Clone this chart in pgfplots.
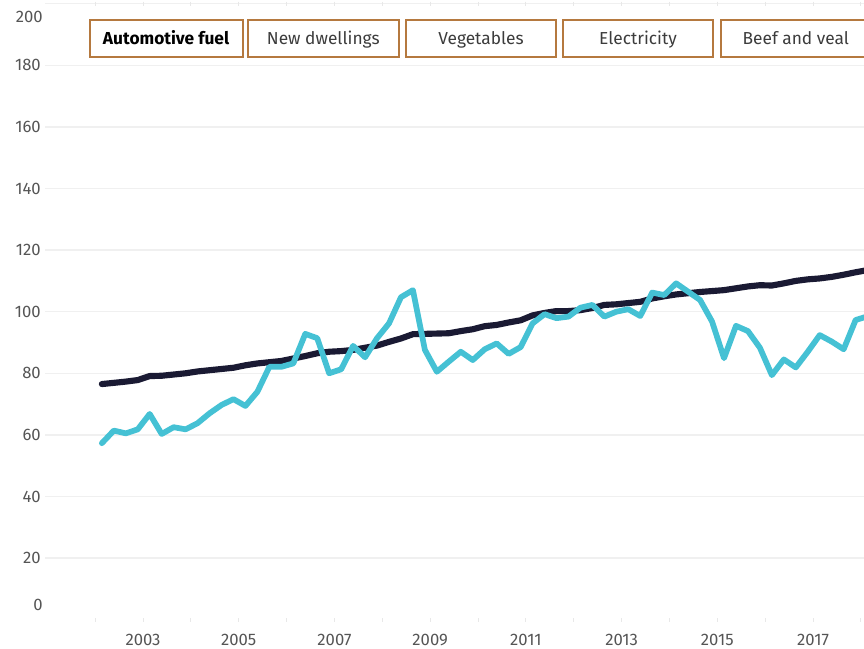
\documentclass[border=0pt]{standalone}
\usepackage{pgfplots}
\pgfplotsset{compat=1.18}
\usepackage{fontspec}
\setmainfont{Fira Sans}
\definecolor{fuel}{RGB}{69,193,212}
\definecolor{cpi}{RGB}{26,26,51}
\definecolor{btn}{RGB}{181,121,63}
\definecolor{lbl}{RGB}{85,85,85}
\definecolor{gridc}{RGB}{240,240,240}
\definecolor{btxt}{RGB}{60,60,60}

\pgfplotstableread{
x y
2002.14 57.3
2002.39 61.4
2002.64 60.5
2002.89 61.8
2003.14 66.8
2003.39 60.3
2003.64 62.5
2003.89 61.8
2004.14 63.8
2004.39 67.0
2004.64 69.7
2004.89 71.6
2005.14 69.4
2005.39 74.0
2005.64 82.1
2005.89 82.1
2006.14 83.2
2006.39 92.8
2006.64 91.4
2006.89 80.0
2007.14 81.3
2007.39 88.9
2007.64 85.2
2007.89 91.4
2008.14 96.2
2008.39 104.7
2008.64 107.0
2008.89 87.6
2009.14 80.5
2009.39 83.8
2009.64 87.0
2009.89 84.3
2010.14 87.8
2010.39 89.7
2010.64 86.3
2010.89 88.5
2011.14 96.2
2011.39 99.2
2011.64 97.9
2011.89 98.4
2012.14 101.3
2012.39 102.2
2012.64 98.4
2012.89 100.0
2013.14 100.8
2013.39 98.6
2013.64 106.2
2013.89 105.4
2014.14 109.2
2014.39 106.5
2014.64 103.8
2014.89 96.8
2015.14 84.9
2015.39 95.4
2015.64 93.7
2015.89 88.3
2016.14 79.4
2016.39 84.5
2016.64 81.9
2016.89 87.0
2017.14 92.4
2017.39 90.3
2017.64 87.8
2017.89 97.3
2018.14 98.5
}\fueltable

\pgfplotstableread{
x y
2002.14 76.5
2002.39 76.9
2002.64 77.3
2002.89 77.8
2003.14 79.1
2003.39 79.2
2003.64 79.6
2003.89 80.0
2004.14 80.6
2004.39 81.0
2004.64 81.4
2004.89 81.8
2005.14 82.6
2005.39 83.2
2005.64 83.6
2005.89 84.0
2006.14 84.8
2006.39 85.6
2006.64 86.5
2006.89 87.0
2007.14 87.2
2007.39 87.6
2007.64 88.3
2007.89 89.0
2008.14 90.2
2008.39 91.3
2008.64 92.7
2008.89 92.8
2009.14 92.9
2009.39 93.0
2009.64 93.7
2009.89 94.3
2010.14 95.3
2010.39 95.7
2010.64 96.5
2010.89 97.2
2011.14 98.8
2011.39 99.6
2011.64 100.2
2011.89 100.2
2012.14 100.5
2012.39 101.2
2012.64 102.2
2012.89 102.4
2013.14 102.8
2013.39 103.2
2013.64 104.3
2013.89 105.0
2014.14 105.6
2014.39 106.0
2014.64 106.4
2014.89 106.7
2015.14 107.0
2015.39 107.6
2015.64 108.2
2015.89 108.6
2016.14 108.5
2016.39 109.2
2016.64 110.0
2016.89 110.5
2017.14 110.8
2017.39 111.3
2017.64 112.0
2017.89 112.8
2018.14 113.5
}\cpitable

\begin{document}
\begin{tikzpicture}
\begin{axis}[
  at={(0,0)}, anchor=south west,
  scale only axis, width=614.25pt, height=462pt,
  xmin=2000.952, xmax=2018.065, ymin=0, ymax=200,
  axis line style={draw=none},
  ytick={20,40,...,200},
  yticklabels={20,40,60,80,100,120,140,160,180,{}},
  ymajorgrids, grid style={gridc, line width=1.1pt},
  y tick style={draw=none},
  xtick={2003,2005,...,2017},
  xticklabels={2003,2005,2007,2009,2011,2013,2015,2017},
  minor xtick={2002,2003,...,2018},
  x tick style={draw=black!9, line width=0.6pt},
  tick align=center, major tick length=3pt, minor tick length=3pt,
  ticklabel style={font=\fontsize{12.5}{15}\selectfont, text=lbl},
  yticklabel style={anchor=east, inner sep=0pt, xshift=-1.5pt},
  xticklabel style={anchor=base, inner sep=0pt, yshift=-17.8pt},
  clip=true,
]
\addplot[cpi, line width=4.6pt, line join=round, line cap=round] table[x=x,y=y] {\cpitable};
\addplot[fuel, line width=4.3pt, line join=round, line cap=round] table[x=x,y=y] {\fueltable};
\end{axis}
\begin{scope}[x=0.75pt, y=-0.75pt, shift={(-33.75pt,464.775pt)}]
  \node[anchor=east, inner sep=0pt, font=\fontsize{12.5}{15}\selectfont, text=lbl] at (43,605) {0};
  \node[anchor=east, inner sep=0pt, font=\fontsize{12.5}{15}\selectfont, text=lbl] at (43,17) {200};
  \tikzset{btnbox/.style={draw=btn, line width=1.5pt, fill=white}}
  \path[btnbox] (89.5,20) rectangle (242.7,56.7);
  \path[btnbox] (247.7,20) rectangle (399,56.7);
  \path[btnbox] (406,20) rectangle (556,56.7);
  \path[btnbox] (562.7,20) rectangle (713.3,56.7);
  \path[btnbox] (720.7,20) rectangle (871,56.7);
  \tikzset{btnlbl/.style={font=\fontsize{13}{15}\selectfont, text=btxt, anchor=base}}
  \node[btnlbl, text=black, font=\fontsize{13}{15}\selectfont\bfseries] at (166.1,45) {Automotive fuel};
  \node[btnlbl] at (323.3,45) {New dwellings};
  \node[btnlbl] at (481,45) {Vegetables};
  \node[btnlbl] at (638,45) {Electricity};
  \node[btnlbl] at (795.8,45) {Beef and veal};
  \pgfresetboundingbox
  \path[use as bounding box] (0,0) rectangle (864,649);
\end{scope}
\end{tikzpicture}
\end{document}
